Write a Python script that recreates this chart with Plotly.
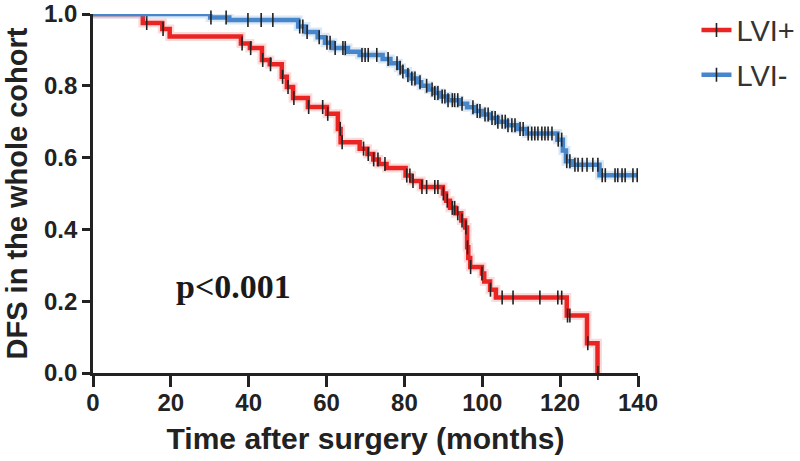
import numpy as np
import plotly.graph_objects as go

# ---- data ----
red_times = [0, 12.8, 17.8, 19.7, 38.0, 40.3, 43.4, 45.4, 48.5, 49.8, 51.4, 55.2, 60.1, 62.9,
             63.6, 68.5, 70.5, 72.0, 73.4, 75.4, 80.3, 81.8, 84.3, 89.9, 90.7, 91.7, 93.1,
             94.6, 95.6, 96.1, 96.4, 96.9, 99.9, 100.5, 102.0, 103.5, 121.7, 126.9, 129.6]
red_surv = [1.0, 0.975, 0.958, 0.937, 0.918, 0.905, 0.872, 0.86, 0.825, 0.797, 0.766, 0.741,
            0.722, 0.68, 0.643, 0.625, 0.61, 0.595, 0.582, 0.571, 0.55, 0.535, 0.518, 0.5,
            0.48, 0.46, 0.445, 0.425, 0.405, 0.35, 0.32, 0.295, 0.277, 0.255, 0.232, 0.21,
            0.16, 0.083, 0.0]
red_censor = [13.8, 18.0, 38.3, 40.5, 43.6, 45.6, 48.7, 50.1, 51.6, 55.4, 59.0, 60.3, 63.5,
              64.0, 69.5, 70.7, 72.1, 73.2, 75.0, 80.6, 81.4, 82.2, 84.5, 85.7, 87.8, 88.6,
              90.0, 91.0, 92.3, 92.9, 93.7, 94.8, 95.8, 96.2, 97.0, 99.9, 102.1, 105.1,
              107.9, 114.8, 119.4, 120.4, 121.9, 122.5, 127.1, 129.7]

blue_times = [0, 30.1, 35.0, 52.7, 54.7, 57.7, 59.6, 61.6, 65.5, 68.5, 74.4, 76.4, 78.4,
              79.3, 80.8, 81.8, 83.3, 84.3, 86.2, 87.7, 89.2, 91.2, 94.1, 96.1, 98.1, 100.0,
              102.0, 104.0, 106.4, 108.9, 111.4, 119.3, 120.7, 121.5, 123.2, 130.1, 140.0]
blue_surv = [1.0, 0.99, 0.983, 0.965, 0.95, 0.935, 0.92, 0.905, 0.895, 0.886, 0.875, 0.863,
             0.85, 0.84, 0.83, 0.82, 0.81, 0.80, 0.79, 0.78, 0.77, 0.76, 0.75, 0.74, 0.73,
             0.72, 0.71, 0.70, 0.69, 0.68, 0.667, 0.65, 0.62, 0.59, 0.58, 0.551, 0.551]
blue_censor = [30.3, 34.2, 39.8, 43.2, 46.2, 53.1, 53.9, 55.0, 58.1, 60.1, 60.9, 62.2, 64.2,
               64.8, 69.1, 69.9, 70.7, 72.9, 75.8, 78.1, 78.9, 79.6, 80.9, 81.9, 82.7, 84.0,
               85.7, 87.1, 87.8, 88.6, 89.7, 90.4, 91.2, 92.3, 92.9, 93.7, 94.8, 97.6, 98.7,
               99.4, 100.7, 101.5, 102.5, 103.3, 104.0, 105.1, 105.9, 106.6, 107.6, 108.4,
               109.7, 110.5, 111.8, 112.7, 113.5, 114.3, 115.3, 116.1, 116.9, 117.9, 119.5,
               120.4, 121.7, 122.5, 123.8, 124.6, 125.7, 126.9, 128.4, 129.7, 130.8, 131.6,
               134.1, 134.8, 135.9, 136.7, 138.7, 139.8]

x_ticks = [0, 20, 40, 60, 80, 100, 120, 140]
y_ticks = [0.0, 0.2, 0.4, 0.6, 0.8, 1.0]

RED = "rgb(234,35,35)"
BLUE = "rgb(72,134,204)"


def step_value(times, surv, t):
    i = np.searchsorted(np.asarray(times), np.asarray(t), side="right") - 1
    return np.asarray(surv)[i]


fig = go.Figure()

for times, surv, cens, col, halo, name in [
    (red_times, red_surv, red_censor, RED, "rgba(240,90,90,0.22)", "LVI+"),
    (blue_times, blue_surv, blue_censor, BLUE, "rgba(90,150,215,0.22)", "LVI-"),
]:
    fig.add_trace(go.Scatter(x=times, y=surv, mode="lines", line_shape="hv",
                             line=dict(color=halo, width=9), showlegend=False,
                             cliponaxis=False, hoverinfo="skip"))
    fig.add_trace(go.Scatter(x=times, y=surv, mode="lines", line_shape="hv",
                             line=dict(color=col, width=4.5), showlegend=False,
                             cliponaxis=False))
    fig.add_trace(go.Scatter(x=cens, y=step_value(times, surv, cens), mode="markers",
                             marker=dict(symbol="line-ns", size=10,
                                         line=dict(color="#222", width=1.6)),
                             showlegend=False, cliponaxis=False))
    fig.add_trace(go.Scatter(x=[None], y=[None], mode="lines+markers", name=name,
                             legendgroup=name,
                             line=dict(color=col, width=4.5),
                             marker=dict(symbol="line-ns", size=10,
                                         line=dict(color="#222", width=1.6))))

fig.add_annotation(x=36.2, y=0.24, text="<b>p&lt;0.001</b>", showarrow=False,
                   font=dict(family="Liberation Serif", size=34, color="#1a1a1a"))

axis_common = dict(showline=True, linecolor="#222", linewidth=2.6, ticks="outside",
                   tickwidth=2.6, tickcolor="#222", showgrid=False,
                   zeroline=False, automargin=False,
                   tickfont=dict(family="Liberation Sans", size=24, color="#222",
                                 weight="bold"))

fig.update_layout(
    width=800, height=461,
    margin=dict(l=93, r=162, t=14, b=88),
    paper_bgcolor="white", plot_bgcolor="white",
    xaxis=dict(range=[0, 140], tickvals=x_ticks, ticktext=[str(v) for v in x_ticks],
               ticklen=11, ticklabelstandoff=-5,
               title=dict(text="Time after surgery (months)", standoff=14,
                          font=dict(family="Liberation Sans", size=30, color="#222",
                                    weight="bold")),
               **axis_common),
    yaxis=dict(range=[0, 1.0], tickvals=y_ticks, ticktext=[f"{v:.1f}" for v in y_ticks],
               ticklen=8,
               title=dict(text="DFS in the whole cohort", standoff=8,
                          font=dict(family="Liberation Sans", size=29, color="#222",
                                    weight="bold")),
               **axis_common),
    legend=dict(xref="container", yref="container", x=0.8706, y=0.99,
                xanchor="left", yanchor="top",
                font=dict(family="Liberation Sans", size=29, color="#333"),
                tracegroupgap=4, bgcolor="rgba(0,0,0,0)"),
    showlegend=True,
)

fig.write_html("out.html", config={"displayModeBar": False},
               post_script="document.body.style.margin='0';document.body.style.padding='0';")
